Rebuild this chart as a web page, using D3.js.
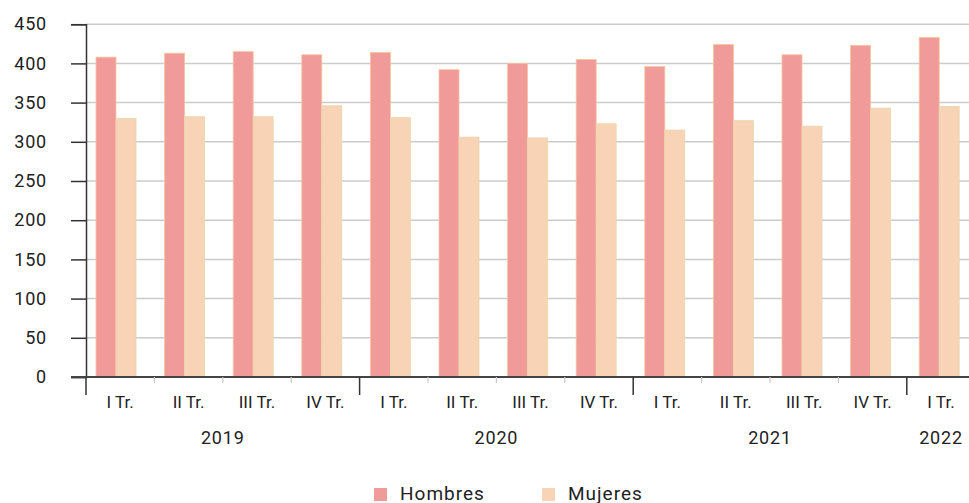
<!DOCTYPE html>
<html>
<head>
<meta charset="utf-8">
<script src="https://cdn.jsdelivr.net/npm/d3@7"></script>
<style>
  html, body { margin: 0; padding: 0; background: #fff; }
  svg { display: block; font-family: Roboto, "Noto Sans", sans-serif; }
</style>
</head>
<body>
<svg id="chart" width="969" height="503"></svg>
<script>
const quarters = ["I Tr.", "II Tr.", "III Tr.", "IV Tr.", "I Tr.", "II Tr.", "III Tr.", "IV Tr.", "I Tr.", "II Tr.", "III Tr.", "IV Tr.", "I Tr."];
const years = ["2019", "2019", "2019", "2019", "2020", "2020", "2020", "2020", "2021", "2021", "2021", "2021", "2022"];
const hombres = [408, 413, 415, 411, 414, 392, 400, 405, 396, 424, 411, 423, 433];
const mujeres = [330, 332, 332, 346, 331, 306, 305, 323, 315, 327, 320, 343, 345];
const yTicks = [0, 50, 100, 150, 200, 250, 300, 350, 400, 450];
const seriesNames = ["Hombres", "Mujeres"];
const colors = ["#f09b99", "#f9d3b6"];
const strokes = ["#f7c59e", "#e6d9ad"];

(function () {
const svg = d3.select("#chart");
const idx = d3.range(quarters.length);
const plotLeft = 86, step = 68.4, plotBottom = 377, plotTop = 24.2;
const x = d3.scaleBand().domain(idx).range([plotLeft, plotLeft + step * idx.length]).padding(0);
const y = d3.scaleLinear().domain([0, 450]).range([plotBottom, plotTop]);

// gridlines
svg.append("g").selectAll("line").data(yTicks.filter(d => d > 0)).join("line")
  .attr("x1", plotLeft).attr("x2", 969)
  .attr("y1", d => y(d)).attr("y2", d => y(d))
  .attr("stroke", "#cccccc").attr("stroke-width", 1.5);

// bars
const series = [hombres, mujeres];
series.forEach((vals, s) => {
  svg.append("g").selectAll("rect").data(idx).join("rect")
    .attr("x", i => x(i) + 10 + s * 20 + i * 0.2)
    .attr("width", 20)
    .attr("y", i => y(vals[i]))
    .attr("height", i => plotBottom - y(vals[i]))
    .attr("fill", colors[s])
    .attr("stroke", strokes[s]).attr("stroke-width", 0.8);
});

// y axis
const yAxis = svg.append("g").attr("transform", `translate(${plotLeft},0)`)
  .call(d3.axisLeft(y).tickValues(yTicks).tickSize(15).tickPadding(24));
yAxis.select(".domain").attr("stroke", "#333").attr("stroke-width", 1.5);
yAxis.selectAll(".tick line").attr("stroke", "#333").attr("stroke-width", 1.5);
yAxis.selectAll(".tick text").attr("font-size", 18).attr("fill", "#222")
  .attr("font-family", "Roboto").attr("letter-spacing", 0.8);

// x axis line
svg.append("line").attr("x1", 71).attr("x2", 969).attr("y1", plotBottom).attr("y2", plotBottom)
  .attr("stroke", "#444").attr("stroke-width", 2);

// ticks at band boundaries
const boundaries = idx.map(i => ({ pos: x(i), major: i === 0 || years[i] !== years[i - 1] }));
svg.append("g").selectAll("line").data(boundaries).join("line")
  .attr("x1", d => d.pos).attr("x2", d => d.pos)
  .attr("y1", plotBottom).attr("y2", d => d.major ? 395 : 383)
  .attr("stroke", d => d.major ? "#333" : "#c8c8c8").attr("stroke-width", d => d.major ? 1.5 : 1.2);

// quarter labels
svg.append("g").selectAll("text").data(idx).join("text")
  .attr("x", i => x(i) + x.bandwidth() / 2).attr("y", 407.5)
  .attr("text-anchor", "middle").attr("font-size", 17).attr("fill", "#222")
  .text(i => quarters[i]);

// year labels
const yearGroups = d3.groups(idx, i => years[i]);
svg.append("g").selectAll("text").data(yearGroups).join("text")
  .attr("x", d => (x(d[1][0]) + x(d[1][d[1].length - 1]) + x.bandwidth()) / 2)
  .attr("y", 443.5)
  .attr("text-anchor", "middle").attr("font-size", 18).attr("fill", "#222")
  .attr("letter-spacing", 0.8)
  .text(d => d[0]);

// legend
const legendX = [374, 542];
const lg = svg.append("g").selectAll("g").data(seriesNames).join("g")
  .attr("transform", (d, i) => `translate(${legendX[i]},488)`);
lg.append("rect").attr("width", 13).attr("height", 13).attr("fill", (d, i) => colors[i]);
lg.append("text").attr("x", 26).attr("y", 11.5).attr("font-size", 19).attr("fill", "#222")
  .attr("letter-spacing", 1).text(d => d);
})();
</script>
</body>
</html>
